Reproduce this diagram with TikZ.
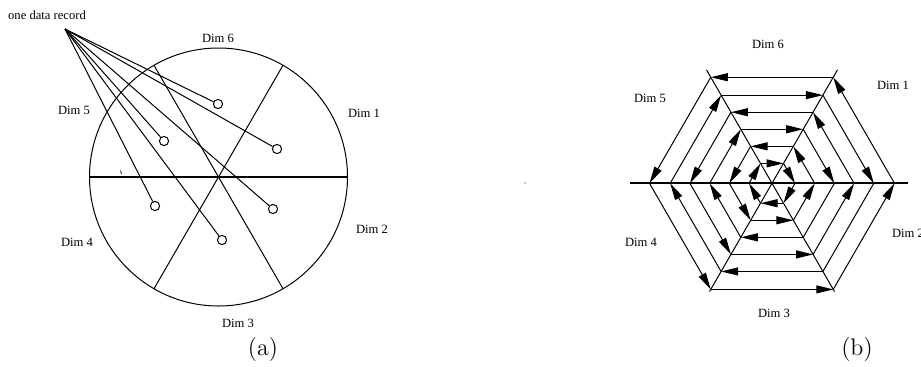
\documentclass[tikz,border=0pt]{standalone}
\usepackage{fontspec}
\newfontfamily\labelfont{Liberation Serif}
\usetikzlibrary{arrows.meta,calc}

\begin{document}
\begin{tikzpicture}[x=0.5pt,y=-0.5pt,
  edge/.style={line width=0.5pt},
  axisline/.style={line width=1pt},
  dimlabel/.style={font=\labelfont\fontsize{6.3}{7.5}\selectfont, inner sep=0pt},
  caption/.style={font=\fontsize{12}{14}\selectfont, inner sep=0pt},
  record/.style={circle, draw, line width=0.5pt, minimum size=4.6pt, inner sep=0pt},
  flow/.style={line width=0.5pt, -{Triangle[length=8.5pt,width=4pt]}},
]
\useasboundingbox (0,0) rectangle (921,366);

% ---------- (a) circle segments with data records ----------
\coordinate (ca) at (218.5,177);
\draw[edge] (ca) circle [radius=129];
\coordinate (a0)   at ($(ca)+(0:129)$);
\coordinate (a180) at ($(ca)+(180:129)$);
\coordinate (a60)  at ($(ca)+(-60:129)$);
\coordinate (a240) at ($(ca)+(120:129)$);
\coordinate (a120) at ($(ca)+(-120:129)$);
\coordinate (a300) at ($(ca)+(60:129)$);
\draw[line width=0.6pt] (a180) -- (a0);
\draw[edge] (a60) -- (a240);
\draw[edge] (a120) -- (a300);
\draw[line width=0.4pt] (120.6,170.6) -- (121.4,174.2);

\node[record] (r1) at (218,104) {};
\node[record] (r2) at (277,149) {};
\node[record] (r3) at (164,141) {};
\node[record] (r4) at (155,206) {};
\node[record] (r5) at (273,209) {};
\node[record] (r6) at (222,240) {};
\coordinate (src) at (65,29);
\foreach \r in {r1,r2,r3,r4,r5,r6} \draw[edge] (src) -- (\r);

\node[dimlabel] (rec) at (47,15) {one data record};
\node[dimlabel] (la6) at (218,38)  {Dim 6};
\node[dimlabel] (la1) at (364,113) {Dim 1};
\node[dimlabel] (la5) at (74,110)  {Dim 5};
\node[dimlabel] (la2) at (372,229) {Dim 2};
\node[dimlabel] (la4) at (77,242)  {Dim 4};
\node[dimlabel] (la3) at (238,323) {Dim 3};
\node[caption] (capa) at (263,350) {(a)};

% ---------- (b) ordering of the values inside the segments ----------
\coordinate (cb) at (772,183.3);
\fill (525,183) circle [radius=0.6];
\coordinate (ax1) at (630,183.3);
\coordinate (ax2) at (908,183.3);
\coordinate (d1s) at ($(cb)+(-60:131)$);
\coordinate (d1e) at ($(cb)+(120:125)$);
\coordinate (d2s) at ($(cb)+(-120:131)$);
\coordinate (d2e) at ($(cb)+(60:125)$);
\draw[axisline] (ax1) -- (ax2);
\draw[edge] (d1s) -- (d1e);
\draw[edge] (d2s) -- (d2e);

% hexagon corners of every ring
\foreach \k/\R in {1/23,2/42.7,3/62.4,4/82.1,5/101.8,6/122.5}
  \foreach \j in {0,...,5}
    \coordinate (v\k-\j) at ($(cb)+(-60*\j:\R)$);

% odd rings run clockwise
\foreach \k in {1,3,5}
  \foreach \j/\n in {0/1,1/2,2/3,3/4,4/5}
    \draw[flow] (v\k-\n) -- (v\k-\j);
\draw[flow] (v1-0) -- (v1-5);
\draw[edge] (v3-0) -- (v3-5);
\draw[edge] (v5-0) -- (v5-5);

% even rings run counter-clockwise
\foreach \k in {2,4,6}
  \foreach \j/\n in {0/1,1/2,2/3,3/4,4/5,5/0}
    \draw[flow] (v\k-\j) -- (v\k-\n);

\node[dimlabel] (lb6) at (768,44)  {Dim 6};
\node[dimlabel] (lb1) at (893,85)  {Dim 1};
\node[dimlabel] (lb5) at (650,98)  {Dim 5};
\node[dimlabel] (lb2) at (908,233) {Dim 2};
\node[dimlabel] (lb4) at (641,242) {Dim 4};
\node[dimlabel] (lb3) at (774,313) {Dim 3};
\node[caption] (capb) at (857,350) {(b)};
\end{tikzpicture}
\end{document}
